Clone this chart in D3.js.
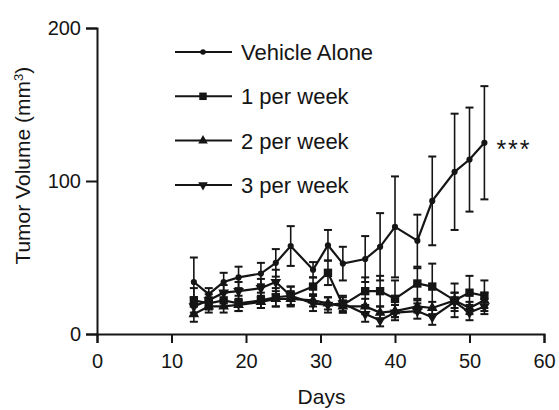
<!DOCTYPE html>
<html>
<head>
<meta charset="utf-8">
<title>Tumor volume</title>
<script src="https://cdn.jsdelivr.net/npm/d3@7"></script>
<style>
  body { margin: 0; background: #fff; }
  svg { font-family: "Liberation Sans", Arial, sans-serif; }
</style>
</head>
<body>
<div id="chart"></div>
<script>
// data
var days = [13, 15, 17, 19, 22, 24, 26, 29, 31, 33, 36, 38, 40, 43, 45, 48, 50, 52];
var vehicle     = [34, 26, 34, 37, 39.5, 46.5, 57.5, 42, 58, 46, 49, 57, 70, 61, 87, 106, 114, 125];
var vehicleErr  = [16, 4, 6, 7, 7, 9, 13, 5, 10, 11, 15, 22, 33, 17, 29, 38, 34, 37];
var perWeek1    = [22, 20, 22, 20, 22, 24, 25, 31, 40, 19, 28, 28, 23, 33, 31, 22, 27, 25];
var perWeek1Err = [8, 4, 5, 5, 5, 6, 6, 6, 8, 5, 9, 10, 12, 10, 15, 11, 11, 10];
var perWeek2    = [13, 18, 18, 19, 21, 23, 23, 22, 20, 18, 18, 14, 15, 18, 17, 22, 17, 22];
var perWeek2Err = [5, 4, 4, 4, 4, 5, 5, 4, 4, 4, 5, 4, 4, 4, 4, 5, 4, 5];
var perWeek3    = [18, 22, 27, 28, 30, 34, 25, 20, 19, 20, 13, 9, 14, 15, 11, 21, 14, 18];
var perWeek3Err = [6, 4, 5, 6, 6, 8, 6, 5, 5, 5, 5, 4, 5, 5, 5, 6, 5, 5];
var seriesNames = ["Vehicle Alone", "1 per week", "2 per week", "3 per week"];
var xTicks = [0, 10, 20, 30, 40, 50, 60];
var yTicks = [0, 100, 200];

var W = 559, H = 410;
var margin = {top: 28, right: 15, bottom: 76, left: 97};

var series = [
  {name: seriesNames[0], vals: vehicle,  err: vehicleErr,  sym: d3.symbolCircle,   size: 30},
  {name: seriesNames[1], vals: perWeek1, err: perWeek1Err, sym: d3.symbolSquare,   size: 70},
  {name: seriesNames[2], vals: perWeek2, err: perWeek2Err, sym: d3.symbolTriangle, size: 50},
  {name: seriesNames[3], vals: perWeek3, err: perWeek3Err, sym: d3.symbolTriangle, size: 50, flip: true}
];

var svg = d3.select("#chart").append("svg").attr("width", W).attr("height", H);

var x = d3.scaleLinear().domain([0, 60]).range([margin.left, W - margin.right]);
var y = d3.scaleLinear().domain([0, 200]).range([H - margin.bottom, margin.top]);

var ink = "#151515";

// axes
var xAxis = svg.append("g")
  .attr("transform", "translate(0," + y(0) + ")")
  .call(d3.axisBottom(x).tickValues(xTicks).tickSize(9).tickPadding(11));
var yAxis = svg.append("g")
  .attr("transform", "translate(" + x(0) + ",0)")
  .call(d3.axisLeft(y).tickValues(yTicks).tickSize(11).tickPadding(5));
[xAxis, yAxis].forEach(function(a){
  a.select(".domain").attr("stroke", ink).attr("stroke-width", 2);
  a.selectAll(".tick line").attr("stroke", ink).attr("stroke-width", 2);
  a.selectAll(".tick text").attr("fill", ink).style("font-size", "20px");
});

svg.append("text")
  .attr("x", (x(0) + x(60)) / 2 + 1).attr("y", 404)
  .attr("text-anchor", "middle").attr("fill", ink).style("font-size", "21px")
  .text("Days");

var ylab = svg.append("text")
  .attr("transform", "translate(30," + y(110) + ") rotate(-90)")
  .attr("text-anchor", "middle").attr("fill", ink).style("font-size", "21px");
ylab.append("tspan").text("Tumor Volume (mm");
ylab.append("tspan").attr("baseline-shift", "super").style("font-size", "13px").text("3");
ylab.append("tspan").text(")");

// error bars, lines, markers
var line = d3.line().x(function(d){ return x(d[0]); }).y(function(d){ return y(d[1]); });

series.forEach(function(s){
  var pts = days.map(function(d, i){ return [d, s.vals[i], s.err[i]]; });
  var g = svg.append("g");
  g.selectAll("line.eb").data(pts).enter().append("line")
    .attr("x1", function(d){ return x(d[0]); }).attr("x2", function(d){ return x(d[0]); })
    .attr("y1", function(d){ return y(d[1] - d[2]); }).attr("y2", function(d){ return y(d[1] + d[2]); })
    .attr("stroke", ink).attr("stroke-width", 1.6);
  [1, -1].forEach(function(sign){
    g.selectAll(null).data(pts).enter().append("line")
      .attr("x1", function(d){ return x(d[0]) - 4; }).attr("x2", function(d){ return x(d[0]) + 4; })
      .attr("y1", function(d){ return y(d[1] + sign * d[2]); }).attr("y2", function(d){ return y(d[1] + sign * d[2]); })
      .attr("stroke", ink).attr("stroke-width", 2);
  });
  g.append("path").datum(pts).attr("d", line)
    .attr("fill", "none").attr("stroke", ink).attr("stroke-width", 2.2);
  g.selectAll("path.m").data(pts).enter().append("path")
    .attr("d", d3.symbol().type(s.sym).size(s.size))
    .attr("transform", function(d){
      return "translate(" + x(d[0]) + "," + y(d[1]) + ")" + (s.flip ? " rotate(180)" : "");
    })
    .attr("fill", ink);
});

// significance mark
svg.append("text")
  .attr("x", x(days[days.length - 1]) + 12).attr("y", y(vehicle[vehicle.length - 1]) + 15)
  .attr("fill", ink).style("font-size", "25px").style("letter-spacing", "2px").text("***");

// legend
var legend = svg.append("g").attr("transform", "translate(175,52)");
series.forEach(function(s, i){
  var row = legend.append("g").attr("transform", "translate(0," + (i * 44.3) + ")");
  row.append("line").attr("x1", 0).attr("x2", 57).attr("y1", 0).attr("y2", 0)
    .attr("stroke", ink).attr("stroke-width", 2);
  row.append("path").attr("d", d3.symbol().type(s.sym).size(s.size * 0.8))
    .attr("transform", "translate(28,0)" + (s.flip ? " rotate(180)" : ""))
    .attr("fill", ink);
  row.append("text").attr("x", 66).attr("y", 8).attr("fill", ink)
    .style("font-size", "22px").text(s.name);
});
</script>
</body>
</html>
